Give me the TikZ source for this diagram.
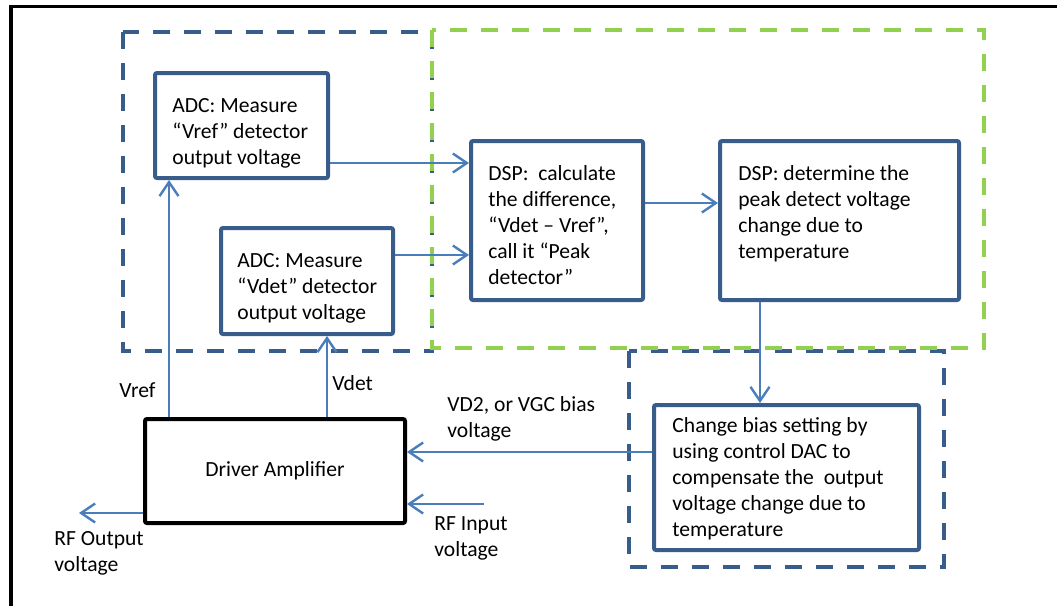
\documentclass[tikz,border=0pt]{standalone}
\usepackage{fontspec}
\setmainfont{Carlito}
\usetikzlibrary{arrows.meta}
\definecolor{boxblue}{HTML}{385D8A}
\definecolor{arrblue}{HTML}{4A7EBB}
\definecolor{dgreen}{HTML}{92D050}
\newcommand\fsz{\fontsize{10.8}{13}\selectfont}
\begin{document}
\begin{tikzpicture}[x=0.5pt,y=-0.5pt,
  box/.style={draw=boxblue, line width=2pt, rounded corners=1pt, inner sep=0pt, fill=white},
  ampbox/.style={draw=black, line width=2pt, rounded corners=1pt, inner sep=0pt, fill=white, font=\fsz},
  txt/.style={anchor=north west, inner sep=0pt, align=left, font=\fsz},
  arr/.style={draw=arrblue, line width=1.2pt, -{Straight Barb[length=7pt,width=9.5pt]}},
  bdash/.style={draw=boxblue, line width=2pt, dash pattern=on 8.5pt off 7pt},
  gdash/.style={draw=dgreen, line width=2pt, dash pattern=on 8.5pt off 7pt}]
\useasboundingbox (0,0) rectangle (1057,606);
% outer frame
\draw[line width=1.8pt] (11,606) -- (11,6.5) -- (1057,6.5);
% dashed groups
\draw[bdash] (123,32) rectangle (432,351);
\draw[bdash] (629,351) rectangle (944,567);
\draw[gdash] (432,30) rectangle (984,348);
% boxes (sizes in pt = half the pixel size)
\node[box, minimum width=86.5pt, minimum height=52.5pt] (adc1) at (241.5,125.5) {};
\node[box, minimum width=86pt, minimum height=53pt] (adc2) at (307,281) {};
\node[box, minimum width=86pt, minimum height=79.5pt] (dsp1) at (557,220.5) {};
\node[box, minimum width=119.5pt, minimum height=79.5pt] (dsp2) at (839.5,220.5) {};
\node[box, minimum width=132.5pt, minimum height=72.5pt] (chg) at (786.5,477.5) {};
\node[ampbox, minimum width=130pt, minimum height=52pt] (amp) at (275,471) {Driver Amplifier};
% box texts
\node[txt] (adc1t) at (172,94.3) {\strut ADC: Measure\\“Vref” detector\\output voltage};
\node[txt] (adc2t) at (237,249.3) {\strut ADC: Measure\\“Vdet” detector\\output voltage};
\node[txt] (dsp1t) at (488,162.3) {\strut DSP:~ calculate\\the difference,\\“Vdet – Vref”,\\call it “Peak\\detector”};
\node[txt] (dsp2t) at (738,162.3) {\strut DSP: determine the\\peak detect voltage\\change due to\\temperature};
\node[txt] (chgt) at (672,414.3) {\strut Change bias setting by\\using control DAC to\\compensate the~ output\\voltage change due to\\temperature};
% free labels
\node[txt] (lvref) at (119,378.8) {\strut Vref};
\node[txt] (lvdet) at (332,372.3) {\strut Vdet};
\node[txt] (lvd2) at (447,393.3) {\strut VD2, or VGC bias\\voltage};
\node[txt] (lrfin) at (434,512.3) {\strut RF Input\\voltage};
\node[txt] (lrfout) at (54,527.3) {\strut RF Output\\voltage};
% free ends
\coordinate (rfin) at (484,504);
\coordinate (rfout) at (79,513);
% connectors
\draw[arr] (adc1.east |- 0,163) -- (dsp1.west |- 0,163);
\draw[arr] (adc2.east |- 0,255) -- (dsp1.west |- 0,255);
\draw[arr] (dsp1.east |- 0,203) -- (dsp2.west |- 0,203);
\draw[arr] (dsp2.south -| 760,0) -- (chg.north -| 760,0);
\draw[arr] (chg.west |- 0,452) -- (amp.east |- 0,452);
\draw[arr] (amp.north -| 169,0) -- (adc1.south -| 169,0);
\draw[arr] (amp.north -| 327,0) -- (adc2.south -| 327,0);
\draw[arr] (rfin) -- (amp.east |- rfin);
\draw[arr] (amp.west |- rfout) -- (rfout);
\end{tikzpicture}
\end{document}
